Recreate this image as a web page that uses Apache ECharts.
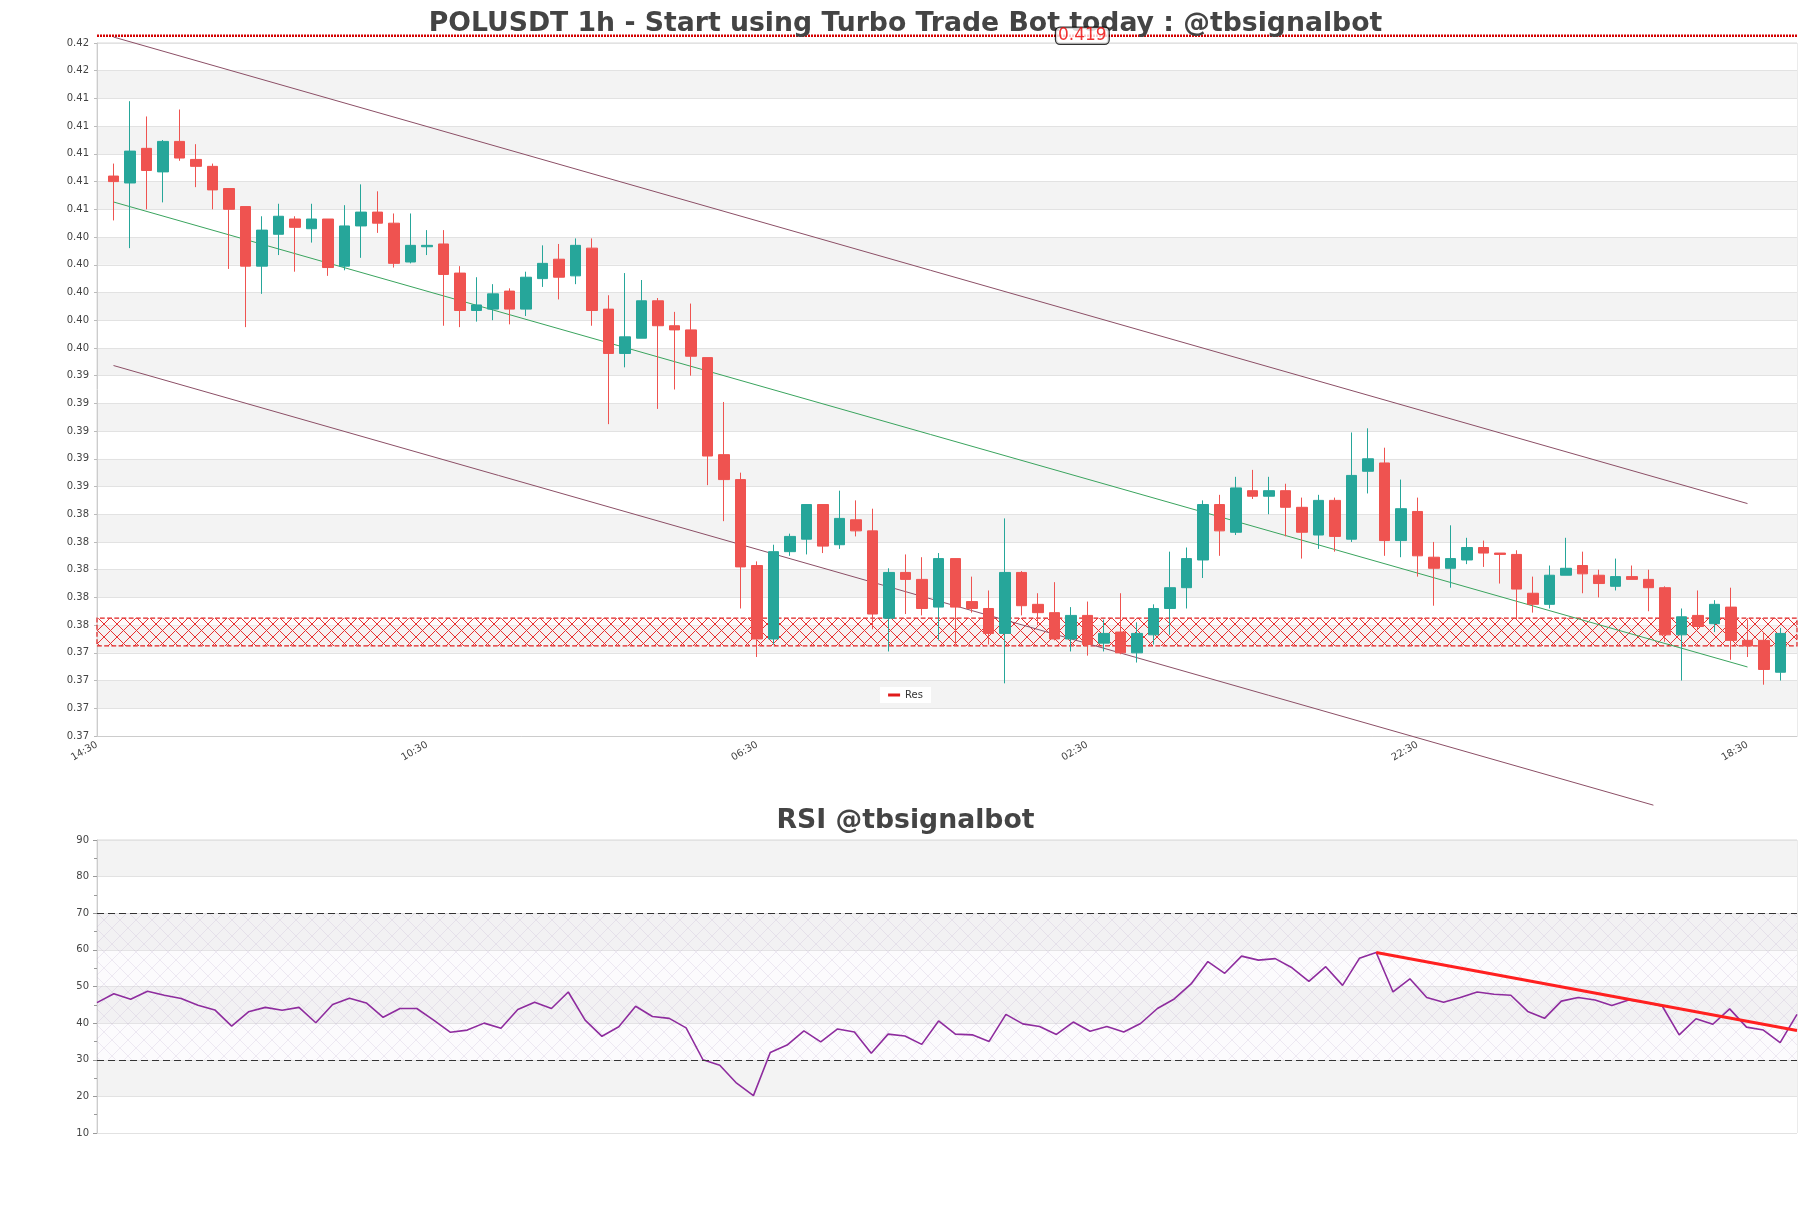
<!DOCTYPE html>
<html>
<head>
<meta charset="utf-8">
<script src="https://cdn.jsdelivr.net/npm/echarts@6/dist/echarts.min.js"></script>
<style>
  html, body { margin: 0; padding: 0; background: #fff; }
  #main { width: 1811px; height: 1208px; }
</style>
</head>
<body>
<div id="main"></div>
<script>
// x tick labels (hourly candles, every 20th hour labelled)
const xTickLabels = ['14:30', '10:30', '06:30', '02:30', '22:30', '18:30'];

// candles 1..102 (hourly)
const opens = [
  0.4084, 0.4079, 0.4104, 0.4087, 0.4109, 0.4096, 0.4091, 0.4075, 0.4062, 0.4019,
  0.4042, 0.4053, 0.4046, 0.4053, 0.4019, 0.4048, 0.4058, 0.4050, 0.4022, 0.4033,
  0.4035, 0.4014, 0.3987, 0.3988, 0.4001, 0.3988, 0.4010, 0.4024, 0.4012, 0.4032,
  0.3988, 0.3956, 0.3967, 0.3994, 0.3976, 0.3973, 0.3953, 0.3883, 0.3865, 0.3803,
  0.3750, 0.3813, 0.3822, 0.3847, 0.3818, 0.3836, 0.3828, 0.3765, 0.3798, 0.3793,
  0.3773, 0.3808, 0.3777, 0.3772, 0.3754, 0.3798, 0.3775, 0.3769, 0.3750, 0.3767,
  0.3747, 0.3755, 0.3740, 0.3753, 0.3772, 0.3787, 0.3807, 0.3847, 0.3827, 0.3857,
  0.3853, 0.3857, 0.3845, 0.3825, 0.3850, 0.3822, 0.3871, 0.3877, 0.3821, 0.3842,
  0.3809, 0.3801, 0.3807, 0.3816, 0.3812, 0.3811, 0.3783, 0.3775, 0.3796, 0.3803,
  0.3796, 0.3788, 0.3795, 0.3793, 0.3787, 0.3753, 0.3767, 0.3761, 0.3773, 0.3749,
  0.3749, 0.3726
];
const closes = [
  0.4080, 0.4102, 0.4088, 0.4109, 0.4097, 0.4091, 0.4074, 0.4060, 0.4019, 0.4045,
  0.4055, 0.4047, 0.4053, 0.4018, 0.4048, 0.4058, 0.4050, 0.4021, 0.4034, 0.4034,
  0.4013, 0.3987, 0.3991, 0.3999, 0.3988, 0.4011, 0.4021, 0.4011, 0.4034, 0.3987,
  0.3956, 0.3968, 0.3994, 0.3976, 0.3973, 0.3954, 0.3882, 0.3865, 0.3802, 0.3750,
  0.3813, 0.3824, 0.3847, 0.3817, 0.3837, 0.3828, 0.3768, 0.3798, 0.3793, 0.3772,
  0.3808, 0.3773, 0.3772, 0.3754, 0.3798, 0.3774, 0.3769, 0.3750, 0.3767, 0.3746,
  0.3754, 0.3740, 0.3754, 0.3772, 0.3787, 0.3808, 0.3847, 0.3828, 0.3859, 0.3853,
  0.3857, 0.3845, 0.3827, 0.3850, 0.3824, 0.3868, 0.3880, 0.3821, 0.3844, 0.3810,
  0.3801, 0.3808, 0.3816, 0.3812, 0.3811, 0.3786, 0.3775, 0.3796, 0.3801, 0.3797,
  0.3790, 0.3795, 0.3793, 0.3787, 0.3753, 0.3766, 0.3759, 0.3775, 0.3749, 0.3745,
  0.3728, 0.3754
];
const lows = [
  0.4052, 0.4032, 0.4060, 0.4065, 0.4095, 0.4076, 0.4060, 0.4017, 0.3975, 0.3999,
  0.4027, 0.4015, 0.4036, 0.4012, 0.4016, 0.4025, 0.4043, 0.4018, 0.4021, 0.4027,
  0.3976, 0.3975, 0.3979, 0.3980, 0.3977, 0.3983, 0.4004, 0.3995, 0.4006, 0.3976,
  0.3905, 0.3946, 0.3967, 0.3916, 0.3930, 0.3940, 0.3861, 0.3835, 0.3772, 0.3737,
  0.3746, 0.3810, 0.3811, 0.3812, 0.3815, 0.3824, 0.3757, 0.3741, 0.3768, 0.3767,
  0.3749, 0.3746, 0.3769, 0.3746, 0.3718, 0.3767, 0.3760, 0.3749, 0.3741, 0.3738,
  0.3741, 0.3739, 0.3733, 0.3746, 0.3753, 0.3772, 0.3794, 0.3810, 0.3825, 0.3851,
  0.3840, 0.3824, 0.3808, 0.3815, 0.3813, 0.3820, 0.3855, 0.3810, 0.3809, 0.3795,
  0.3774, 0.3787, 0.3804, 0.3802, 0.3790, 0.3764, 0.3769, 0.3772, 0.3796, 0.3783,
  0.3780, 0.3785, 0.3793, 0.3770, 0.3748, 0.3720, 0.3757, 0.3755, 0.3735, 0.3737,
  0.3717, 0.3720
];
const highs = [
  0.4093, 0.4138, 0.4127, 0.4110, 0.4132, 0.4107, 0.4093, 0.4075, 0.4062, 0.4055,
  0.4064, 0.4055, 0.4064, 0.4053, 0.4063, 0.4078, 0.4073, 0.4057, 0.4057, 0.4045,
  0.4045, 0.4019, 0.4011, 0.4006, 0.4003, 0.4015, 0.4034, 0.4035, 0.4039, 0.4039,
  0.3998, 0.4014, 0.4009, 0.3996, 0.3986, 0.3992, 0.3953, 0.3921, 0.3870, 0.3806,
  0.3818, 0.3826, 0.3847, 0.3847, 0.3857, 0.3850, 0.3844, 0.3801, 0.3811, 0.3809,
  0.3812, 0.3808, 0.3795, 0.3785, 0.3837, 0.3799, 0.3783, 0.3791, 0.3773, 0.3777,
  0.3764, 0.3783, 0.3762, 0.3775, 0.3813, 0.3816, 0.3850, 0.3854, 0.3867, 0.3872,
  0.3867, 0.3862, 0.3852, 0.3854, 0.3852, 0.3899, 0.3902, 0.3888, 0.3865, 0.3852,
  0.3820, 0.3832, 0.3823, 0.3821, 0.3812, 0.3814, 0.3795, 0.3803, 0.3823, 0.3813,
  0.3800, 0.3808, 0.3803, 0.3800, 0.3788, 0.3772, 0.3785, 0.3778, 0.3787, 0.3764,
  0.3755, 0.3758
];

// RSI, one point per candle
const rsi = [
  45.6, 48.0, 46.5, 48.7, 47.6, 46.7, 44.9, 43.6, 39.2, 43.1,
  44.3, 43.5, 44.3, 40.1, 45.1, 46.8, 45.5, 41.6, 44.0, 44.0,
  40.8, 37.5, 38.1, 40.0, 38.6, 43.7, 45.7, 44.0, 48.5, 40.8,
  36.4, 39.0, 44.6, 41.8, 41.3, 38.7, 30.0, 28.5, 23.6, 20.2,
  32.0, 34.0, 37.9, 34.9, 38.4, 37.6, 31.8, 37.0, 36.5, 34.2,
  40.6, 37.0, 36.8, 35.0, 42.4, 39.8, 39.1, 36.9, 40.3, 37.8,
  39.1, 37.6, 39.9, 44.0, 46.6, 50.7, 56.8, 53.6, 58.3, 57.2,
  57.6, 55.1, 51.4, 55.4, 50.3, 57.7, 59.3, 48.5, 52.1, 47.0,
  45.7, 47.0, 48.5, 47.9, 47.6, 43.2, 41.3, 46.0, 47.0, 46.3,
  44.8, 46.3, 45.7, 44.6, 36.8, 41.2, 39.7, 43.9, 38.9, 38.1,
  34.7, 42.4
];

// levels and trend lines: [index, value]
const resLevel = 0.41852;
const resLine = [[0, resLevel], [103, resLevel]];
const resLabelAt = 59.7;
const zoneLow = 0.3745;
const zoneHigh = 0.3765;
const upperChannel = [[1, 0.41843], [100, 0.38477]];
const midTrend = [[1, 0.40653], [100, 0.37298]];
const lowerChannel = [[1, 0.39473], [94.3, 0.36301]];
const rsiTrend = [[76, 59.3], [101, 38.0]];
const rsiBands = [30, 70];

function hatch(size, stroke, fill, width) {
  const c = document.createElement('canvas');
  c.width = size; c.height = size;
  const ctx = c.getContext('2d');
  if (fill) { ctx.fillStyle = fill; ctx.fillRect(0, 0, size, size); }
  ctx.strokeStyle = stroke;
  ctx.lineWidth = width;
  ctx.beginPath();
  ctx.moveTo(0, 0); ctx.lineTo(size, size);
  ctx.moveTo(size, 0); ctx.lineTo(0, size);
  ctx.stroke();
  return c;
}

const candleData = opens.map((o, i) => [i + 1, o, closes[i], lows[i], highs[i]]);
const rsiData = rsi.map((v, j) => [j, v]);

const font = 'DejaVu Sans';
const chart = echarts.init(document.getElementById('main'));

chart.setOption({
  animation: false,
  backgroundColor: '#fff',
  textStyle: { fontFamily: font },
  title: [
    {
      text: 'POLUSDT 1h - Start using Turbo Trade Bot today : @tbsignalbot',
      left: 'center', top: 6,
      textStyle: { fontSize: 26.7, fontWeight: 'bold', color: '#444', fontFamily: font }
    },
    {
      text: 'RSI @tbsignalbot',
      left: 'center', top: 803,
      textStyle: { fontSize: 26.7, fontWeight: 'bold', color: '#444', fontFamily: font }
    }
  ],
  legend: {
    data: ['Res'],
    left: 'center', top: 687,
    icon: 'rect', itemWidth: 12, itemHeight: 3,
    backgroundColor: '#fff', padding: [3, 8],
    textStyle: { fontSize: 10, color: '#333' }
  },
  grid: [
    { left: 97, top: 43, width: 1700, height: 693, show: true, borderColor: '#d8d8d8', borderWidth: 1 },
    { left: 97, top: 840, width: 1700, height: 293, show: true, borderColor: '#d8d8d8', borderWidth: 1 }
  ],
  xAxis: [
    {
      type: 'value', gridIndex: 0, min: 0, max: 103, interval: 20,
      axisLine: { lineStyle: { color: '#ccc' } },
      axisTick: { show: false },
      splitLine: { show: false },
      axisLabel: {
        rotate: 30, fontSize: 10, color: '#444', showMaxLabel: false,
        formatter: v => xTickLabels[v / 20] || ''
      }
    },
    { type: 'value', gridIndex: 1, min: 0, max: 101, show: false }
  ],
  yAxis: [
    {
      type: 'value', gridIndex: 0, min: 0.368, max: 0.418, interval: 0.002,
      axisLine: { show: true, lineStyle: { color: '#ccc' } },
      axisTick: { show: true, length: 3, lineStyle: { color: '#bbb' } },
      axisLabel: { fontSize: 10, color: '#444', margin: 8, formatter: v => v.toFixed(2) },
      splitLine: { lineStyle: { color: '#e2e2e2' } },
      splitArea: { show: true, areaStyle: { color: ['#ffffff', '#f3f3f3'] } }
    },
    {
      type: 'value', gridIndex: 1, min: 10, max: 90, interval: 10,
      axisLine: { show: true, lineStyle: { color: '#ccc' } },
      axisTick: { show: true, length: 4, lineStyle: { color: '#999' } },
      minorTick: { show: true, splitNumber: 2, length: 3, lineStyle: { color: '#999' } },
      axisLabel: { fontSize: 10, color: '#444', margin: 8 },
      splitLine: { lineStyle: { color: '#e2e2e2' } },
      splitArea: { show: true, areaStyle: { color: ['#ffffff', '#f3f3f3'] } }
    }
  ],
  series: [
    {
      name: 'POLUSDT', type: 'candlestick', xAxisIndex: 0, yAxisIndex: 0, z: 4,
      data: candleData,
      encode: { x: 0, y: [1, 2, 3, 4] },
      barWidth: 11,
      itemStyle: {
        color: '#26a69a', color0: '#ef5350',
        borderColor: '#26a69a', borderColor0: '#ef5350', borderWidth: 1
      }
    },
    {
      name: 'Res', type: 'line', xAxisIndex: 0, yAxisIndex: 0, z: 2,
      data: resLine, clip: false, symbol: 'none', color: '#e01b1b',
      lineStyle: { color: '#d40000', type: [2, 1], width: 2.5 },
      markArea: {
        silent: true,
        itemStyle: {
          color: { image: hatch(13, '#e83030', 'rgba(255,240,240,0.3)', 1), repeat: 'repeat' },
          borderColor: '#e02020', borderType: 'dashed', borderWidth: 1.2
        },
        data: [[{ yAxis: zoneLow }, { yAxis: zoneHigh }]]
      }
    },
    {
      name: 'resLabel', type: 'scatter', xAxisIndex: 0, yAxisIndex: 0, z: 10,
      clip: false, symbolSize: 1, itemStyle: { color: 'transparent' },
      data: [[resLabelAt, resLevel]],
      label: {
        show: true, position: 'inside', formatter: () => resLevel.toFixed(3),
        color: '#ee0000', fontSize: 17, backgroundColor: '#fff',
        borderColor: '#000', borderWidth: 1.2, borderRadius: 4, padding: [0, 2, -1, 2]
      }
    },
    {
      name: 'upper', type: 'line', xAxisIndex: 0, yAxisIndex: 0, clip: false, z: 3,
      data: upperChannel, symbol: 'none', lineStyle: { color: '#8c4f66', width: 1 }
    },
    {
      name: 'trend', type: 'line', xAxisIndex: 0, yAxisIndex: 0, clip: false, z: 3,
      data: midTrend, symbol: 'none', lineStyle: { color: '#3aa45e', width: 1 }
    },
    {
      name: 'lower', type: 'line', xAxisIndex: 0, yAxisIndex: 0, clip: false, z: 3,
      data: lowerChannel, symbol: 'none', lineStyle: { color: '#8c4f66', width: 1 }
    },
    {
      name: 'RSI', type: 'line', xAxisIndex: 1, yAxisIndex: 1, z: 4,
      data: rsiData, symbol: 'none',
      lineStyle: { color: '#8e2c9e', width: 1.6 },
      markLine: {
        silent: true, symbol: 'none', label: { show: false },
        lineStyle: { color: '#333', type: [7, 4], width: 1.2 },
        data: [{ yAxis: rsiBands[1] }, { yAxis: rsiBands[0] }]
      },
      markArea: {
        silent: true,
        itemStyle: {
          color: { image: hatch(16, 'rgba(175,150,200,0.28)', 'rgba(240,234,246,0.2)', 0.7), repeat: 'repeat' }
        },
        data: [[{ yAxis: rsiBands[0] }, { yAxis: rsiBands[1] }]]
      }
    },
    {
      name: 'rsiTrend', type: 'line', xAxisIndex: 1, yAxisIndex: 1, z: 5,
      data: rsiTrend, symbol: 'none',
      lineStyle: { color: '#ff2020', width: 3 }
    }
  ]
});
</script>
</body>
</html>
